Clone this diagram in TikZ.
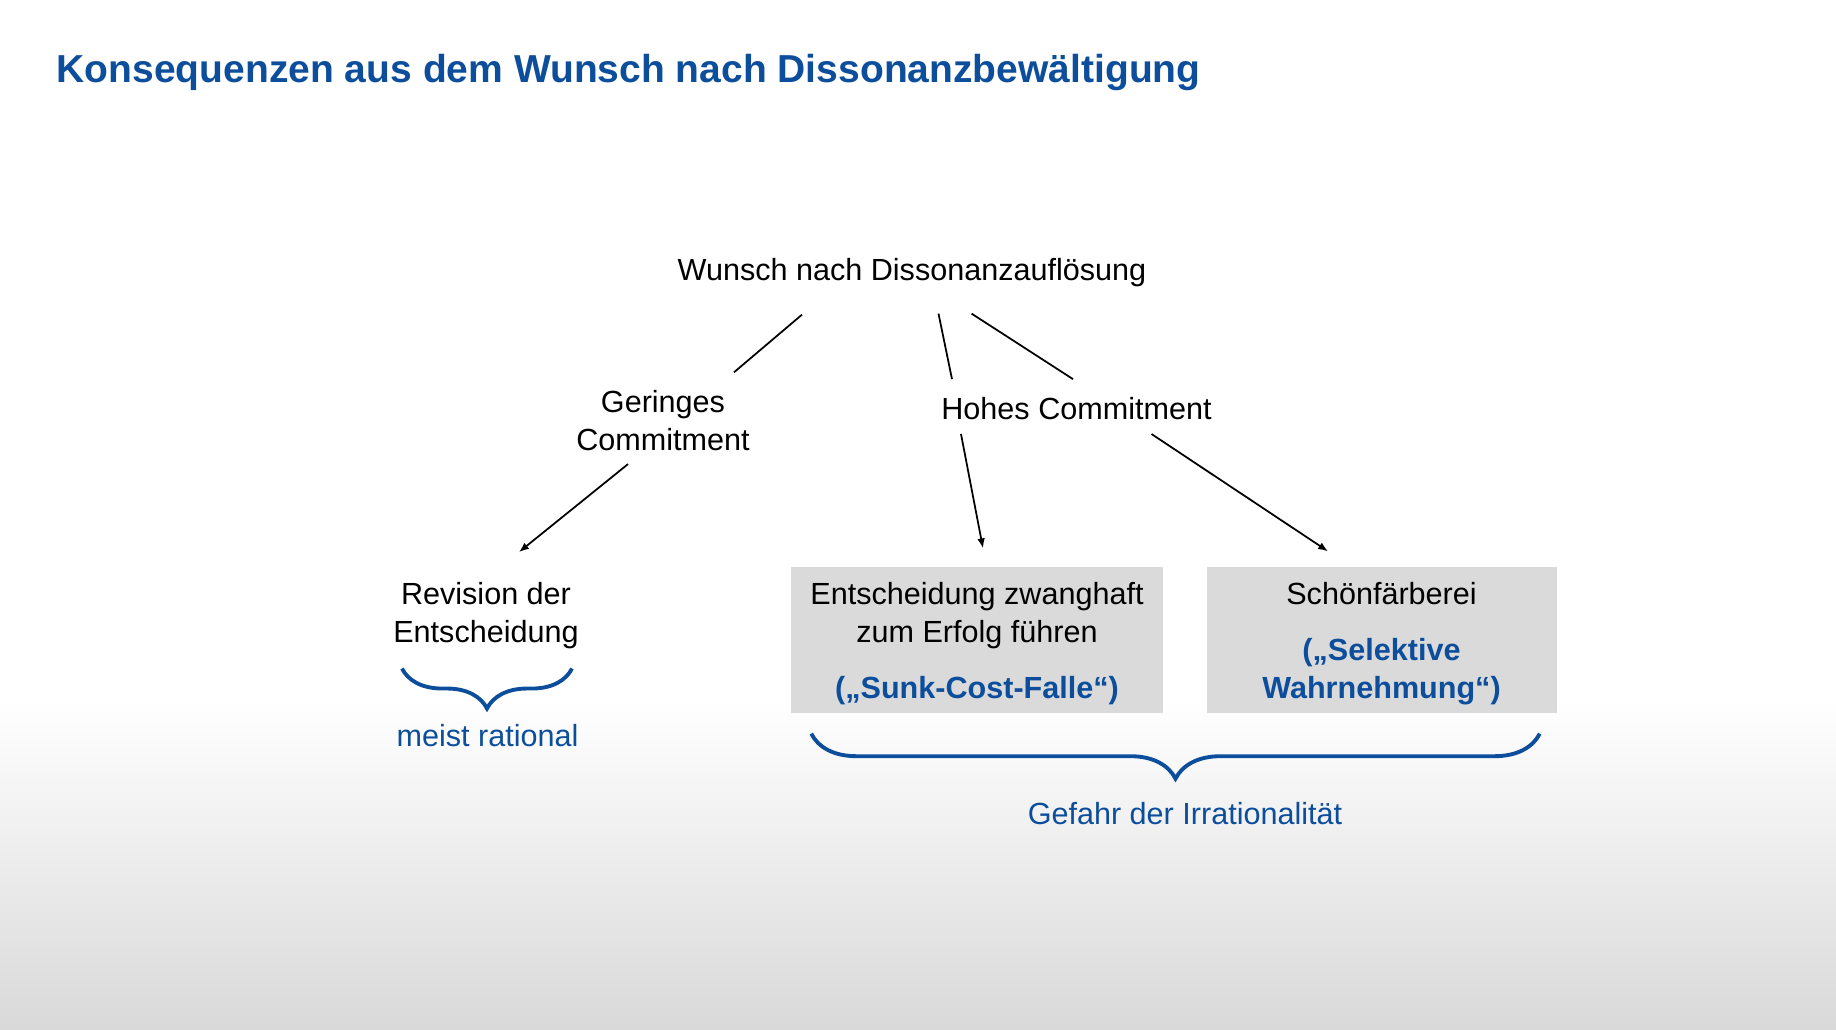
\documentclass[tikz,border=0pt]{standalone}
\usepackage{fontspec}
\setmainfont{Liberation Sans}
\usepackage{tikz}
\usetikzlibrary{calc,arrows.meta,decorations.pathreplacing}
\definecolor{slideblue}{HTML}{0C4E9C}
\definecolor{boxgray}{HTML}{DADADA}

\begin{document}
\begin{tikzpicture}[x=0.1mm,y=-0.1mm,
  txt/.style={inner sep=0pt,font=\fontsize{8.7}{10.8}\selectfont,align=center},
  lnk/.style={line width=0.5pt},
  arr/.style={line width=0.5pt,-{Latex[length=2.8pt,width=2.2pt]}},
  brc/.style={slideblue,line width=1.1pt,decorate,decoration={brace,mirror,amplitude=#1}},
  outbox/.style={txt,fill=boxgray,minimum width=#1,minimum height=14.6mm}]
\useasboundingbox (0,0) rectangle (1836,1030);
\fill[white] (0,0) rectangle (1836,1030);
\shade[top color=white,bottom color=black!15] (0,700) rectangle (1836,1030);
% title
\node[inner sep=0pt,anchor=base west,font=\fontsize{11.1}{13}\selectfont\bfseries,slideblue] (title) at (56,82.5) {Konsequenzen aus dem Wunsch nach Dissonanzbewältigung};
% tree
\node[txt,anchor=base] (wunsch) at (912,281) {Wunsch nach Dissonanzauflösung};
\node[txt] (gering) at (663,420.5) {Geringes\\Commitment};
\node[txt,anchor=base] (hohes) at (1076.5,419.5) {Hohes Commitment};
\node[txt] (revision) at (486,616) {Revision der\\Entscheidung};
\node[outbox=37.2mm] (sunk) at (977,640) {\rule{0pt}{2.95mm}Entscheidung zwanghaft\\zum Erfolg führen\\[5.1pt]\textcolor{slideblue}{\bfseries(„Sunk-Cost-Falle“)}};
\node[outbox=35mm] (schoen) at (1381.5,640) {\rule{0pt}{2.95mm}Schönfärberei\\[5.1pt]\textcolor{slideblue}{\bfseries(„Selektive}\\\textcolor{slideblue}{\bfseries Wahrnehmung“)}};
\draw[lnk] ($(wunsch.south)+(-110,26.6)$) -- ($(gering.north)+(71,-17.3)$);
\draw[arr] ($(gering.south)+(-35,12.7)$) -- ($(revision.north)+(33,-30)$);
\draw[lnk] ($(wunsch.south)+(26.5,25.6)$) -- ($(hohes.north)+(-124.5,-17.5)$);
\draw[lnk] ($(wunsch.south)+(59.6,25.6)$) -- ($(hohes.north)+(-3.5,-17.5)$);
\draw[arr] ($(hohes.south)+(-115.5,13.5)$) -- ($(sunk.north)+(6,-18)$);
\draw[arr] ($(hohes.south)+(75,13.5)$) -- ($(schoen.north)+(-53.5,-15)$);
% braces
\draw[brc=4mm] ($(revision.south)+(-84,18.6)$) -- ($(revision.south)+(86,18.6)$);
\node[txt,anchor=base,slideblue] (rational) at (487.5,747) {meist rational};
\draw[brc=4.5mm] ($(sunk.south west)+(21,20)$) -- ($(schoen.south east)+(-17.5,20)$);
\node[txt,anchor=base,slideblue] (gefahr) at (1185,825) {Gefahr der Irrationalität};
\end{tikzpicture}
\end{document}
